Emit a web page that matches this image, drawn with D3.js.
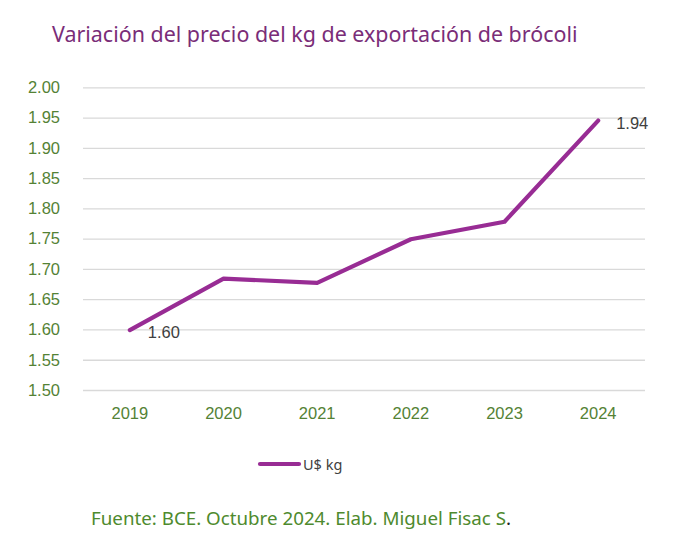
<!DOCTYPE html>
<html><head><meta charset="utf-8">
<script src="https://cdn.jsdelivr.net/npm/d3@7/dist/d3.min.js"></script>
<style>body{margin:0;background:#fff;} svg{display:block;}</style>
</head><body>
<script>
const years = ["2019","2020","2021","2022","2023","2024"];
const prices = [1.599, 1.684, 1.677, 1.749, 1.778, 1.945];
const dataLabels = ["1.60", "", "", "", "", "1.94"];
const yTicks = [1.50,1.55,1.60,1.65,1.70,1.75,1.80,1.85,1.90,1.95,2.00];
const seriesName = "U$ kg";
const titleText = "Variación del precio del kg de exportación de brócoli";
const sourceText = "Fuente: BCE. Octubre 2024. Elab. Miguel Fisac S";

(function(){
const W=673,H=545;
const svg=d3.select("body").append("svg").attr("width",W).attr("height",H);
const pLeft=83,pRight=645,pTop=87.3,pBottom=390;
const x=d3.scaleBand().domain(years).range([pLeft,pRight]);
const y=d3.scaleLinear().domain([1.5,2.0]).range([pBottom,pTop]);
const axisFont="'Liberation Sans', Arial, sans-serif";
const green="#548235", purple="#982C94";

function fit(sel,w){const l=sel.node().getComputedTextLength();const fs=parseFloat(sel.attr("font-size"));sel.attr("font-size",fs*w/l);}

// title
const t=svg.append("text").attr("x",52).attr("y",42).attr("font-family","'Noto Sans', sans-serif")
 .attr("font-size",22).attr("fill","#7A2D78").text(titleText);
fit(t,526);

// grid
const ya=d3.axisLeft(y).tickValues(yTicks).tickSize(-(pRight-pLeft)).tickFormat(d3.format(".2f")).tickPadding(23);
const gy=svg.append("g").attr("transform",`translate(${pLeft},0)`).call(ya);
gy.select(".domain").remove();
gy.selectAll(".tick line").attr("stroke","#d9d9d9").attr("stroke-width",1.3);
gy.selectAll(".tick text").attr("fill",green).attr("font-size",16.5).attr("font-family",axisFont);

const xa=d3.axisBottom(x).tickSize(0).tickPadding(17);
const gx=svg.append("g").attr("transform",`translate(0,${pBottom})`).call(xa);
gx.select(".domain").remove();
gx.selectAll(".tick text").attr("fill",green).attr("font-size",16.5).attr("font-family",axisFont);

// line
const line=d3.line().x((d,i)=>x(years[i])+x.bandwidth()/2).y(d=>y(d));
svg.append("path").datum(prices).attr("d",line).attr("fill","none").attr("stroke",purple)
 .attr("stroke-width",4.2).attr("stroke-linejoin","round").attr("stroke-linecap","round");

// data labels
svg.selectAll(".dl").data(prices).enter().append("text")
 .attr("x",(d,i)=>x(years[i])+x.bandwidth()/2+18)
 .attr("y",d=>y(d)+8)
 .attr("font-family",axisFont).attr("font-size",16.5).attr("fill","#404040")
 .text((d,i)=>dataLabels[i]);

// legend
svg.append("line").attr("x1",260).attr("x2",299).attr("y1",464).attr("y2",464)
 .attr("stroke",purple).attr("stroke-width",4.2).attr("stroke-linecap","round");
svg.append("text").attr("x",303).attr("y",469.5).attr("font-family","'Noto Sans', sans-serif")
 .attr("font-size",14.5).attr("fill","#404040").text(seriesName);

// source
const s=svg.append("text").attr("x",91).attr("y",525).attr("font-family","'Noto Sans', sans-serif")
 .attr("font-size",19).attr("fill","#4E8A2E");
s.append("tspan").text(sourceText);
fit(s,415);
s.append("tspan").attr("fill","#222").text(".");
})();
</script>
</body></html>
